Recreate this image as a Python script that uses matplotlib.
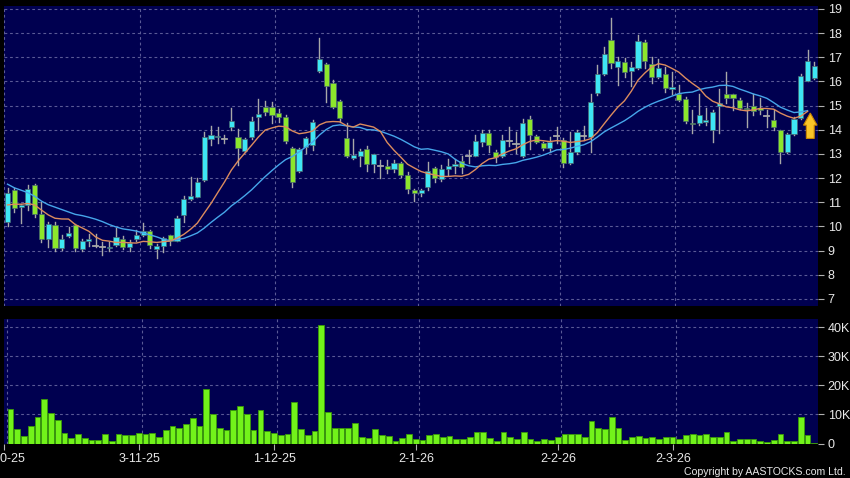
import numpy as np
import pandas as pd
import matplotlib
matplotlib.use("Agg")
import matplotlib.pyplot as plt
from matplotlib import font_manager
from matplotlib.patches import Rectangle, Polygon
from matplotlib.ticker import FuncFormatter

# ---------- data ----------
opens = [10.2, 11.5, 10.82, 10.9, 11.7, 10.5, 9.5, 10.05, 9.1, 9.6,
         10.05, 9.07, 9.4, 9.2, 9.15, 9.12, 9.24, 9.5, 9.14, 9.47,
         9.65, 9.8, 9.06, 9.21, 9.64, 9.41, 10.48, 11.13, 11.23, 11.93,
         13.62, 13.72, 13.64, 14.13, 13.69, 13.14, 13.69, 14.52, 14.96, 14.96,
         14.68, 14.52, 13.26, 12.31, 13.28, 13.38, 16.45, 16.71, 15.93, 15.19,
         13.65, 12.82, 12.9, 13.2, 12.57, 12.5, 12.5, 12.37, 12.61, 12.13,
         11.51, 11.37, 11.63, 12.41, 11.95, 12.37, 12.5, 12.71, 12.88, 12.93,
         13.51, 13.86, 13.1, 12.92, 13.53, 13.4, 12.92, 14.44, 13.75, 13.47,
         13.24, 13.74, 13.58, 12.64, 13.06, 13.71, 13.72, 15.51, 16.3, 17.72,
         16.59, 16.79, 16.45, 16.57, 17.62, 16.71, 16.2, 16.31, 15.7, 15.48,
         15.26, 14.27, 14.27, 14.32, 14.0, 14.99, 15.47, 15.47, 15.24, 14.92,
         15.0, 14.89, 14.56, 14.41, 13.99, 13.07, 13.83, 14.48, 16.02, 16.13]
highs = [11.6, 11.6, 10.95, 11.7, 11.75, 11.0, 10.2, 10.2, 9.65, 9.97,
         10.1, 9.5, 9.7, 9.7, 9.35, 9.36, 9.95, 9.6, 9.45, 9.87,
         10.13, 9.85, 9.28, 9.58, 9.66, 10.45, 11.26, 12.04, 12.0, 13.92,
         14.15, 14.1, 13.78, 14.9, 14.02, 13.65, 14.52, 15.26, 15.2, 15.16,
         14.86, 14.6, 13.3, 13.25, 13.7, 14.41, 17.81, 16.78, 16.06, 15.25,
         14.3, 13.61, 13.2, 13.31, 13.0, 12.75, 12.75, 12.73, 12.68, 12.25,
         11.55, 11.55, 12.68, 12.45, 12.55, 12.78, 12.78, 12.9, 13.17, 13.79,
         14.0, 14.0, 13.15, 13.79, 14.13, 13.92, 14.44, 14.57, 13.8, 13.5,
         13.72, 14.13, 13.65, 13.9, 14.0, 14.16, 15.47, 16.68, 17.42, 18.61,
         17.0, 16.96, 16.82, 17.92, 17.7, 17.03, 16.92, 16.61, 16.37, 15.86,
         15.35, 14.82, 15.48, 14.89, 14.8, 15.68, 16.41, 15.5, 15.3, 15.1,
         15.47, 15.31, 14.82, 14.8, 14.0, 13.88, 14.52, 16.31, 17.28, 16.82]
lows = [10.0, 10.6, 10.15, 10.7, 10.4, 9.35, 9.15, 9.0, 9.03, 9.55,
        9.0, 9.0, 9.2, 9.15, 8.8, 9.0, 9.2, 9.05, 9.0, 9.4,
        9.6, 9.1, 8.68, 8.96, 9.24, 9.38, 10.2, 11.1, 11.2, 11.9,
        13.37, 13.44, 13.47, 14.0, 12.55, 13.1, 13.6, 14.0, 14.6, 14.3,
        14.34, 13.44, 11.65, 12.25, 13.03, 13.18, 16.4, 15.13, 14.9, 14.34,
        12.89, 12.78, 12.49, 12.3, 12.27, 12.0, 12.2, 12.27, 12.04, 11.38,
        11.07, 11.28, 11.5, 11.86, 11.9, 12.13, 12.2, 12.2, 12.62, 12.9,
        13.31, 13.1, 12.68, 12.88, 13.31, 13.03, 12.88, 13.2, 13.45, 13.15,
        13.1, 13.44, 12.45, 12.6, 13.0, 13.58, 13.1, 15.45, 16.25, 16.55,
        15.86, 16.17, 15.79, 16.5, 16.55, 15.93, 16.15, 15.58, 15.48, 15.2,
        14.3, 13.86, 14.2, 14.2, 13.51, 13.86, 15.1, 14.82, 14.85, 14.13,
        14.61, 14.65, 14.13, 14.0, 12.64, 13.05, 13.8, 14.45, 16.0, 16.1]
closes = [11.4, 10.75, 10.9, 11.55, 10.5, 9.5, 10.12, 9.1, 9.5, 9.75,
          9.1, 9.4, 9.48, 9.2, 9.13, 9.15, 9.58, 9.15, 9.3, 9.64,
          9.8, 9.24, 9.21, 9.51, 9.41, 10.34, 11.13, 11.26, 11.86, 13.72,
          13.79, 13.76, 13.62, 14.37, 13.24, 13.61, 14.37, 14.66, 14.73, 14.61,
          14.52, 13.55, 11.86, 13.21, 13.65, 14.31, 16.92, 15.83, 14.96, 14.48,
          12.93, 12.96, 13.13, 12.59, 12.99, 12.5, 12.37, 12.61, 12.13, 11.54,
          11.37, 11.51, 12.3, 12.0, 12.37, 12.5, 12.59, 12.45, 12.9, 13.54,
          13.86, 13.35, 12.89, 13.58, 13.55, 13.42, 14.27, 13.79, 13.51, 13.24,
          13.51, 13.76, 12.64, 13.06, 13.92, 13.73, 15.16, 16.31, 17.14, 16.76,
          16.85, 16.41, 16.59, 17.68, 16.86, 16.2, 16.55, 15.72, 15.76, 15.24,
          14.38, 14.22, 14.61, 14.4, 14.73, 15.1, 15.33, 15.33, 14.89, 14.85,
          14.79, 14.8, 14.58, 14.13, 13.1, 13.83, 14.44, 16.24, 16.85, 16.65]
volumes = [11800, 5100, 2600, 5900, 9200, 15200, 10600, 8200, 3600, 2000,
           3400, 1800, 1100, 1100, 3200, 800, 3400, 2900, 2900, 3700,
           3400, 3600, 2200, 4700, 6000, 5200, 6800, 8700, 6100, 18600,
           10200, 5300, 4500, 11400, 13000, 10300, 4600, 11400, 4400, 3700,
           2900, 3200, 14300, 5100, 2800, 4300, 40700, 10900, 5200, 5200,
           5200, 7200, 2400, 1800, 4900, 2900, 2500, 800, 2000, 3400,
           1700, 1300, 2900, 3200, 2200, 2600, 1400, 1400, 2300, 3800,
           3900, 2000, 1000, 4100, 2100, 1400, 3800, 1700, 800, 1600,
           1300, 2100, 3100, 3300, 3100, 2100, 7700, 5200, 4900, 9200,
           5200, 1100, 2200, 2600, 1800, 2200, 1600, 2400, 2400, 1400,
           2900, 3200, 2900, 3400, 2100, 2100, 3900, 800, 1700, 1700,
           1400, 1000, 500, 1300, 3400, 700, 900, 9200, 3000, 300]
# moving-average values at the left edge, where the window reaches before the first bar
ma10_head = [10.89, 10.92, 10.92, 10.95, 10.89, 10.68, 10.48, 10.34, 10.31]
ma20_head = [11.75, 11.6, 11.5, 11.4, 11.25, 11.05, 10.9, 10.8, 10.7, 10.6,
             10.5, 10.45, 10.38, 10.3, 10.2, 10.08, 9.98, 9.9, 9.86]
date_idx = [0, 20, 40, 61, 82, 99]
date_labels = ['2-10-25', '3-11-25', '1-12-25', '2-1-26', '2-2-26', '2-3-26']
price_ticks = list(range(7, 20))
vol_ticks = [0, 10000, 20000, 30000, 40000]

# ---------- styling ----------
BG = '#000050'
GRID = '#5a5a96'
UP = '#3ee6f4'
DOWN = '#8ce62c'
WICK = '#a8a8a8'
TXT = '#e8e8e8'

names = {f.name for f in font_manager.fontManager.ttflist}
plt.rcParams['font.family'] = ['Liberation Sans', 'DejaVu Sans']
if 'Liberation Sans Narrow' in names:
    copy_font = dict(family=['Liberation Sans Narrow'], fontsize=9)
else:
    copy_font = dict(family=['Liberation Sans'], fontsize=7.6)

n = len(closes)
x = np.arange(n)
df = pd.DataFrame({'o': opens, 'h': highs, 'l': lows, 'c': closes, 'v': volumes})
ma10 = df['c'].rolling(10).mean().to_numpy()
ma20 = df['c'].rolling(20).mean().to_numpy()
ma10[:len(ma10_head)] = ma10_head
ma20[:len(ma20_head)] = ma20_head

fig = plt.figure(figsize=(8.5, 4.78), dpi=100, facecolor='black')
ax1 = fig.add_axes([4 / 850, 1 - 306 / 478, 814 / 850, 300 / 478])
ax2 = fig.add_axes([4 / 850, 1 - 443.5 / 478, 814 / 850, 124.5 / 478])

for ax in (ax1, ax2):
    ax.set_facecolor(BG)
    for s in ax.spines.values():
        s.set_visible(False)
    ax.set_xlim(-0.52, n - 0.46)
    for d in date_idx:
        ax.axvline(d - 0.5, color=GRID, lw=0.8, ls=(0, (2.5, 2.5)), zorder=0)
    ax.yaxis.tick_right()
    ax.tick_params(axis='y', direction='out', length=4, width=0.8, color='#b0b0b0',
                   labelcolor=TXT, labelsize=9, pad=3)

# ---------- price panel ----------
ax1.set_ylim(6.71, 19.12)
for p in price_ticks:
    ax1.axhline(p, color=GRID, lw=0.8, ls=(0, (2.5, 2.5)), zorder=0)
ax1.set_yticks(price_ticks)
ax1.set_xticks([])

w = 0.76
for i in range(n):
    o, h, l, c = opens[i], highs[i], lows[i], closes[i]
    ax1.plot([i, i], [l, h], color=WICK, lw=1.0, zorder=2)
    if abs(c - o) < 0.03:
        ax1.plot([i - w / 2, i + w / 2], [c, c], color=WICK, lw=1.3, zorder=3)
    else:
        col = UP if c > o else DOWN
        ax1.add_patch(Rectangle((i - w / 2, min(o, c)), w, abs(c - o),
                                facecolor=col, edgecolor='#4a6a70', lw=0.5, zorder=3))

ax1.plot(x[:-1], ma20[:-1], color='#46a6ea', lw=1.0, zorder=4)
ax1.plot(x[:-1], ma10[:-1], color='#dc8c5e', lw=1.0, zorder=4)

# yellow up arrow under the last bars, pointing at the average crossing
tip_x, tip_y = n - 1.6, ma10[n - 2] - 0.07
hw, sw, hl, L = 1.0, 0.58, 0.5, 1.05
arrow = Polygon([(tip_x, tip_y), (tip_x + hw, tip_y - hl), (tip_x + sw, tip_y - hl),
                 (tip_x + sw, tip_y - L), (tip_x - sw, tip_y - L), (tip_x - sw, tip_y - hl),
                 (tip_x - hw, tip_y - hl)], closed=True,
                facecolor='#f8c428', edgecolor='#c88400', lw=0.8, zorder=6)
ax1.add_patch(arrow)

# ---------- volume panel ----------
ax2.set_ylim(0, 42800)
for v in vol_ticks[1:]:
    ax2.axhline(v, color=GRID, lw=0.8, ls=(0, (2.5, 2.5)), zorder=0)
ax2.bar(x, volumes, width=0.85, color='#72f21a', edgecolor='#3a9a08', lw=0.6, zorder=3)
ax2.set_yticks(vol_ticks)
ax2.yaxis.set_major_formatter(FuncFormatter(lambda v, pos: '0' if v == 0 else f'{int(v / 1000)}K'))
ax2.set_xticks([d - 0.95 for d in date_idx])
ax2.set_xticklabels(date_labels)
ax2.tick_params(axis='x', direction='out', length=4, width=0.8, color='#b0b0b0',
                labelcolor=TXT, labelsize=9, pad=3)

fig.text(846 / 850, 1 - 472 / 478, 'Copyright by AASTOCKS.com Ltd.', color=TXT,
         ha='right', va='center', **copy_font)

fig.savefig('out.png', dpi=100, facecolor='black')
